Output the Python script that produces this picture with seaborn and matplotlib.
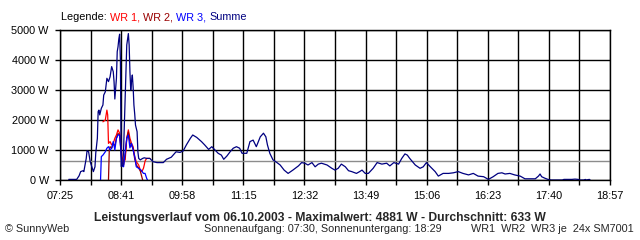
import numpy as np
import pandas as pd
import matplotlib
matplotlib.use("Agg")
import matplotlib.pyplot as plt
import seaborn as sns

# ---------------- data ----------------
sum_times = ["07:36","07:46","07:49","07:51","07:54","07:55","07:58","07:59","08:01","08:03",
             "08:05","08:07","08:09","08:10","08:12","08:13","08:14","08:15","08:17","08:19",
             "08:20","08:22","08:24","08:26","08:28","08:30","08:32","08:33","08:34","08:36",
             "08:37","08:38","08:39","08:40","08:41","08:42","08:44","08:45","08:47","08:49",
             "08:51","08:52","08:53","08:54","08:55","08:56","08:57","08:58","08:59","09:00",
             "09:02","09:03","09:04","09:06","09:09","09:11","09:14","09:18","09:22","09:27",
             "09:35","09:39","09:45","09:51","09:56","10:00","10:04","10:09","10:12","10:17",
             "10:23","10:27","10:32","10:36","10:40","10:44","10:48","10:51","10:55","10:59",
             "11:03","11:07","11:11","11:14","11:20","11:24","11:28","11:32","11:37","11:41",
             "11:44","11:46","11:49","11:53","11:58","12:02","12:07","12:12","12:18","12:25",
             "12:29","12:33","12:37","12:42","12:46","12:50","12:54","13:01","13:07","13:11",
             "13:15","13:19","13:24","13:28","13:32","13:38","13:42","13:45","13:49","13:53",
             "13:59","14:04","14:10","14:16","14:20","14:25","14:31","14:35","14:39","14:42",
             "14:45","14:52","14:58","15:02","15:06","15:11","15:17","15:21","15:27","15:34",
             "15:40","15:46","15:52","15:59","16:05","16:11","16:18","16:24","16:30","16:36",
             "16:41","16:45","16:51","16:57","17:04","17:10","17:23","17:27","17:29","17:31",
             "17:35","17:39","17:43","17:57","17:59","18:09","18:13","18:17","18:19","18:24",
             "18:26","18:27","18:31","18:32"]
sum_watts = [20, 20, 140, 280, 310, 280, 720, 970, 940, 610,
             440, 280, 440, 900, 1390, 2280, 2330, 2170, 2390, 2500,
             2830, 2940, 3390, 3280, 3440, 3780, 3610, 3280, 2700, 3390,
             4280, 4440, 4700, 4860, 4000, 450, 470, 1000, 2720, 4500,
             4881, 4500, 3600, 3000, 3300, 3500, 3100, 2500, 2200, 1830,
             1610, 940, 720, 670, 720, 740, 720, 720, 610, 580,
             580, 690, 760, 940, 920, 970, 1170, 1390, 1500, 1420,
             1280, 1170, 1020, 1110, 1000, 890, 830, 690, 800, 940,
             1060, 1110, 1060, 890, 890, 1280, 1330, 1110, 1440, 1560,
             1440, 1170, 890, 670, 580, 500, 330, 220, 330, 470,
             580, 560, 500, 580, 440, 530, 560, 500, 390, 330,
             390, 530, 440, 310, 280, 220, 280, 330, 220, 220,
             390, 580, 530, 560, 470, 580, 530, 720, 870, 830,
             720, 500, 390, 440, 580, 440, 280, 130, 220, 220,
             240, 280, 220, 170, 220, 130, 110, 20, 110, 220,
             240, 200, 220, 170, 130, 40, 40, 130, 200, 110,
             60, 20, 0, 0, 20, 20, 30, 20, 0, 0,
             20, 0, 20, 0]

wr1_times = ["08:19","08:22","08:24","08:25","08:26","08:28","08:30","08:32","08:34","08:36",
             "08:38","08:40","08:43","08:45","08:47","08:49","08:51","08:53","08:55","08:57",
             "08:59","09:01","09:04","09:06","09:08","09:10","09:11","09:12","09:14","09:18"]
wr1_watts = [1940, 2000, 2330, 2170, 1220, 1280, 1170, 1220, 1390, 1500,
             1670, 1560, 780, 610, 670, 1390, 1670, 1390, 1220, 1110,
             780, 610, 500, 330, 280, 390, 500, 630, 720, 720]

wr2_times = ["08:26","08:27","08:28","08:30","08:32","08:34","08:36","08:38","08:40","08:43",
             "08:45","08:47","08:49","08:51","08:53","08:55","08:57","08:59","09:01","09:04",
             "09:06","09:08","09:09"]
wr2_watts = [0, 1000, 1110, 1060, 1200, 1150, 1390, 1550, 1500, 600,
             500, 800, 1390, 1600, 1250, 1150, 1050, 700, 500, 400,
             300, 100, 0]

wr3_times = ["08:16","08:17","08:19","08:22","08:24","08:26","08:28","08:30","08:32","08:34",
             "08:36","08:38","08:40","08:43","08:45","08:47","08:49","08:51","08:53","08:55",
             "08:57","08:59","09:01","09:04","09:07","09:10","09:12","09:14","09:15"]
wr3_watts = [0, 780, 830, 940, 1060, 1110, 1000, 1060, 1280, 1000,
             1390, 1500, 1500, 500, 440, 940, 1390, 1500, 1070, 1220,
             1000, 780, 440, 390, 330, 220, 220, 60, 0]

average_w = 633
x_start, x_end = "07:25", "18:57"
x_tick_labels = ["07:25", "", "08:41", "", "09:58", "", "11:15", "", "12:32", "",
                 "13:49", "", "15:06", "", "16:23", "", "17:40", "", "18:57"]
y_ticks = [0, 1000, 2000, 3000, 4000, 5000]

series_names = ["WR 1", "WR 2", "WR 3", "Summe"]
series_colors = ["#FF0000", "#990000", "#0000FF", "#000080"]

title_text = "Leistungsverlauf vom 06.10.2003 - Maximalwert: 4881 W - Durchschnitt: 633 W"
footer_left = "\u00a9 SunnyWeb"
footer_mid = "Sonnenaufgang: 07:30, Sonnenuntergang: 18:29"
footer_right = "WR1  WR2  WR3 je  24x SM7001"

# ---------------- helpers ----------------
def to_min(ts):
    return [int(t[:2]) * 60 + int(t[3:]) for t in ts]

sns.set_style("white")
plt.rcParams["font.family"] = ["Liberation Sans", "DejaVu Sans"]
FS = 7.8

W, H = 640, 240
fig = plt.figure(figsize=(W / 100, H / 100), dpi=100)
ax = fig.add_axes([60 / W, 1 - 180 / H, 550 / W, 150 / H])

x0, x1 = to_min([x_start, x_end])
xt = np.linspace(x0, x1, len(x_tick_labels))

# grid
for v in xt:
    ax.axvline(v, color="black", lw=1.0, zorder=1)
for v in y_ticks:
    ax.axhline(v, color="black", lw=1.0, zorder=1)
ax.axhline(average_w, color="#8c8c8c", lw=1.0, zorder=1.5)

all_t = [wr1_times, wr2_times, wr3_times, sum_times]
all_w = [wr1_watts, wr2_watts, wr3_watts, sum_watts]
for name, col, ts, ws in zip(series_names, series_colors, all_t, all_w):
    df = pd.DataFrame({"t": to_min(ts), "w": ws})
    sns.lineplot(data=df, x="t", y="w", color=col, lw=0.9, ax=ax,
                 estimator=None, sort=False, zorder=2)

ax.set_xlim(x0, x1)
ax.set_ylim(0, 5000)
ax.set_xticks(xt)
ax.set_xticklabels(x_tick_labels)
ax.set_yticks(y_ticks)
ax.set_yticklabels([f"{v} W" for v in y_ticks])
ax.set_xlabel("")
ax.set_ylabel("")
ax.tick_params(axis="both", direction="out", length=3.6, width=1.0, color="black",
               labelsize=FS, labelcolor="black", bottom=True, left=True)
ax.tick_params(axis="x", pad=4.5)
ax.tick_params(axis="y", pad=4.5)
for s in ax.spines.values():
    s.set_visible(True)
    s.set_color("black")
    s.set_linewidth(1.0)

# legend as coloured text
fig.canvas.draw()
r = fig.canvas.get_renderer()
parts = [("Legende: ", "black")]
for i, (n, c) in enumerate(zip(series_names, series_colors)):
    parts.append((n + (", " if i < len(series_names) - 1 else ""), c))
xpix = 61
for txt, c in parts:
    t = fig.text(xpix / W, 1 - 20.5 / H, txt, color=c, fontsize=FS, va="baseline", ha="left")
    bb = t.get_window_extent(renderer=r)
    xpix += bb.width

fig.text(320 / W, 1 - 220.8 / H, title_text, fontsize=8.7, fontweight="bold",
         ha="center", va="baseline")
fig.text(5 / W, 1 - 232 / H, footer_left, fontsize=FS, ha="left", va="baseline")
fig.text(203.5 / W, 1 - 232 / H, footer_mid, fontsize=FS, ha="left", va="baseline")
fig.text(634 / W, 1 - 232 / H, footer_right, fontsize=FS, ha="right", va="baseline")

fig.savefig("out.png", dpi=100, facecolor="white")
